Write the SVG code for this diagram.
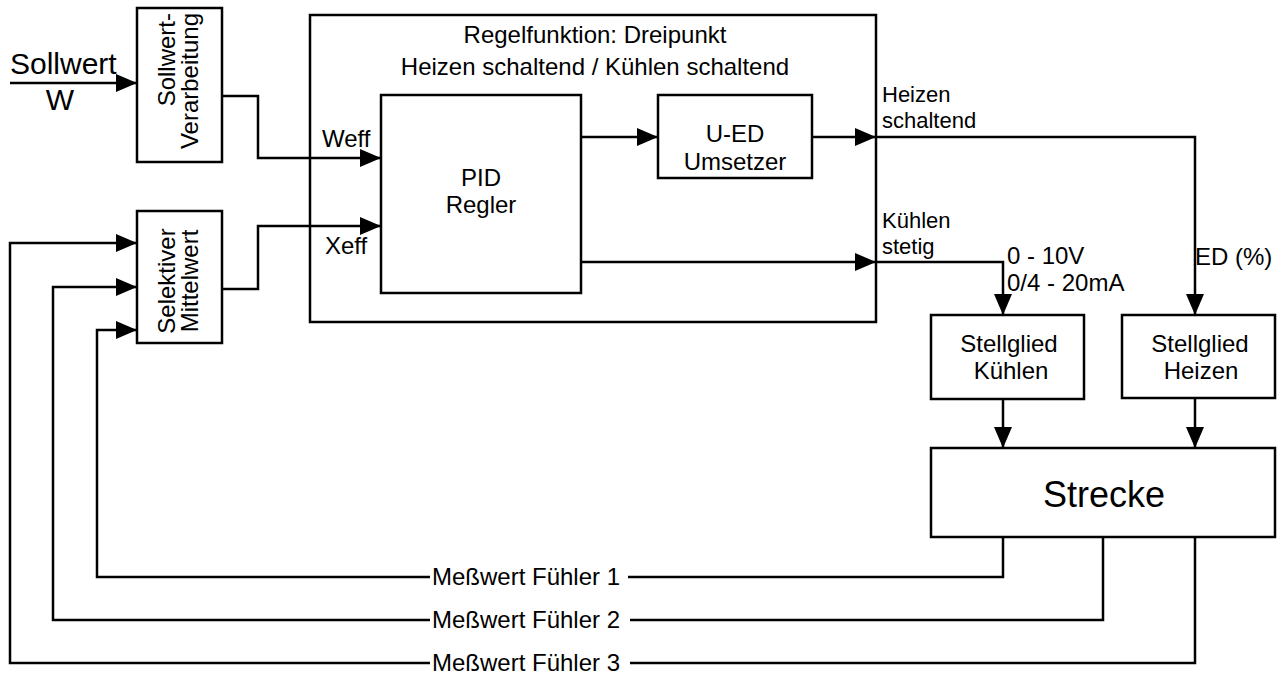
<svg xmlns="http://www.w3.org/2000/svg" width="1282" height="675" viewBox="0 0 1282 675">
<style>
.box{fill:#fff;stroke:#000;stroke-width:2.5}
.ln{fill:none;stroke:#000;stroke-width:2.5}
.arr{fill:none;stroke:#000;stroke-width:2.5;marker-end:url(#ah)}
text{font-family:"Liberation Sans",Arial,sans-serif;font-size:24px;fill:#000}
.c{text-anchor:middle}
.s{font-size:22px}
</style>
<defs>
<marker id="ah" markerUnits="userSpaceOnUse" markerWidth="21" markerHeight="18" refX="21" refY="9" orient="auto">
<path d="M0,0 L21,9 L0,18 z" fill="#000"/>
</marker>
</defs>
<rect width="1282" height="675" fill="#fff"/>

<g id="sollwert-label">
<text x="10" y="74" style="font-size:30px">Sollwert</text>
<text x="60" y="110" class="c" style="font-size:30px">W</text>
</g>

<g id="sollwert-verarbeitung">
<rect class="box" x="137" y="8" width="85" height="154"/>
<text transform="translate(175,13) rotate(-90)" text-anchor="end">Sollwert-</text>
<text transform="translate(198,13) rotate(-90)" text-anchor="end">Verarbeitung</text>
</g>

<g id="selektiver-mittelwert">
<rect class="box" x="137" y="211" width="85" height="132"/>
<text transform="translate(175,281) rotate(-90)" class="c">Selektiver</text>
<text transform="translate(198,281) rotate(-90)" class="c">Mittelwert</text>
</g>

<g id="regelfunktion">
<rect class="box" x="310" y="15" width="566" height="307"/>
<text x="595" y="43" class="c">Regelfunktion: Dreipunkt</text>
<text x="595" y="75" class="c">Heizen schaltend / Kühlen schaltend</text>
</g>

<g id="pid-regler">
<rect class="box" x="381" y="95" width="200" height="198"/>
<text x="481" y="186" class="c">PID</text>
<text x="481" y="213" class="c">Regler</text>
</g>

<g id="u-ed-umsetzer">
<rect class="box" x="658" y="95" width="154" height="83"/>
<text x="735" y="142" class="c">U-ED</text>
<text x="735" y="170" class="c">Umsetzer</text>
</g>

<g id="stellglied-kuehlen">
<rect class="box" x="931" y="315" width="153" height="84"/>
<text x="1009" y="352" class="c">Stellglied</text>
<text x="1011" y="379" class="c">Kühlen</text>
</g>

<g id="stellglied-heizen">
<rect class="box" x="1122" y="315" width="153" height="83"/>
<text x="1200" y="352" class="c">Stellglied</text>
<text x="1201" y="379" class="c">Heizen</text>
</g>

<g id="strecke">
<rect class="box" x="931" y="448" width="344" height="89"/>
<text x="1104" y="507" class="c" style="font-size:36px">Strecke</text>
</g>

<g id="connectors">
<path class="arr" d="M10,83 H137"/>
<path class="arr" d="M222,96 H258 V158 H381"/>
<path class="arr" d="M222,289 H258 V226 H381"/>
<path class="arr" d="M581,137 H658"/>
<path class="arr" d="M812,137 H876"/>
<path class="arr" d="M876,137 H1195 V315"/>
<path class="arr" d="M581,262 H876"/>
<path class="arr" d="M876,262 H1003 V315"/>
<path class="arr" d="M1003,399 V448"/>
<path class="arr" d="M1195,398 V448"/>
<path class="ln" d="M1003,537 V577 H628"/>
<path class="arr" d="M430,577 H97 V330 H137"/>
<path class="ln" d="M1103,537 V620 H630"/>
<path class="arr" d="M430,620 H53 V287 H137"/>
<path class="ln" d="M1195,537 V663 H630"/>
<path class="arr" d="M430,663 H10 V243 H137"/>
</g>

<g id="labels">
<text x="322" y="147">Weff</text>
<text x="325" y="254">Xeff</text>
<text x="882" y="102" class="s">Heizen</text>
<text x="882" y="128" class="s">schaltend</text>
<text x="882" y="228" class="s">Kühlen</text>
<text x="882" y="254" class="s">stetig</text>
<text x="1007" y="264">0 - 10V</text>
<text x="1007" y="291">0/4 - 20mA</text>
<text x="1195" y="265">ED (%)</text>
<text x="432" y="585">Meßwert Fühler 1</text>
<text x="432" y="628">Meßwert Fühler 2</text>
<text x="432" y="671">Meßwert Fühler 3</text>
</g>
</svg>
